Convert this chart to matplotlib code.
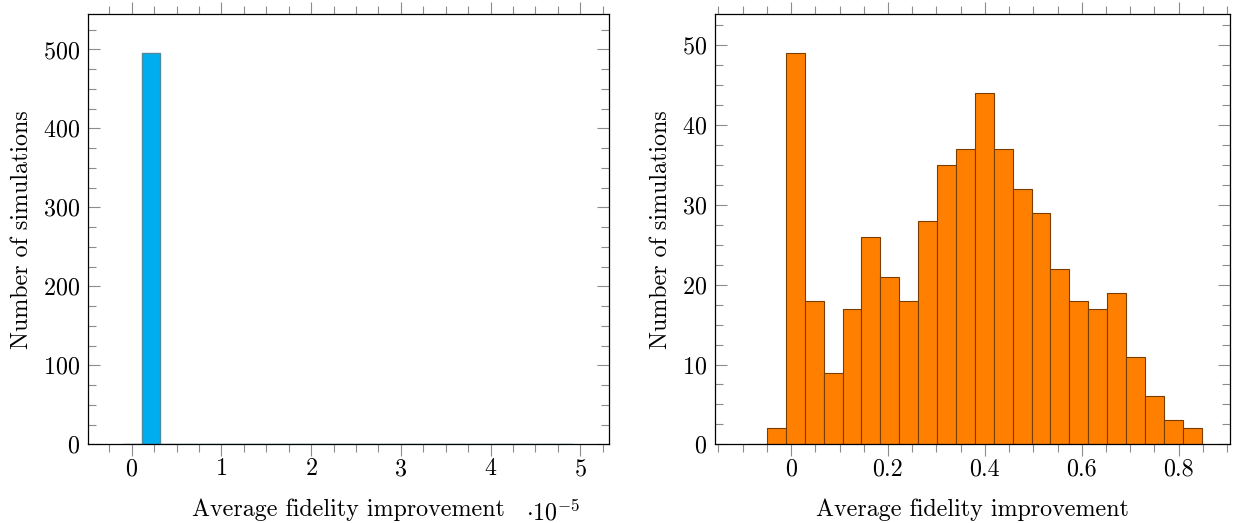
import numpy as np
import matplotlib
matplotlib.use("Agg")
import matplotlib.pyplot as plt
from matplotlib.ticker import MultipleLocator

plt.rcParams["font.family"] = "cmr10"
plt.rcParams["mathtext.fontset"] = "cm"
plt.rcParams["axes.formatter.use_mathtext"] = True

# ─── Data ─────────────────────────────────────────────────────────────────────

# left panel, x in units of 1e-5
SCALE = 1e-5
left_start = -0.099
left_width = 0.209
left_counts = [0, 495, 1, 0, 0, 0, 0, 0, 0, 0, 1, 0, 0, 1, 0, 0, 0, 0, 0, 0, 1, 0, 0, 1]
left_ticks = [0, 1, 2, 3, 4, 5]

# right panel
right_start = -0.0887
right_width = 0.039
right_counts = [0, 2, 49, 18, 9, 17, 26, 21, 18, 28, 35, 37, 44, 37, 32,
                29, 22, 18, 17, 19, 11, 6, 3, 2]
right_ticks = [0, 0.2, 0.4, 0.6, 0.8]
right_tick_labels = ["0", "0.2", "0.4", "0.6", "0.8"]

XLABEL = "Average fidelity improvement"
YLABEL = "Number of simulations"

FS = 17.3
TICK_COLOR = "#8c8c8c"

# ─── Plot ─────────────────────────────────────────────────────────────────────

fig = plt.figure(figsize=(12.33, 5.23), dpi=100)
ax1 = fig.add_axes([88.3 / 1233, 78.7 / 523, 520.7 / 1233, 430 / 523])
ax2 = fig.add_axes([715 / 1233, 78.7 / 523, 515 / 1233, 430 / 523])


def style_axis(ax):
    for s in ax.spines.values():
        s.set_linewidth(0.9)
        s.set_color("black")
    ax.tick_params(axis="x", which="both", direction="out", top=True, bottom=True,
                   color=TICK_COLOR, width=0.8, labelsize=FS, pad=1.5)
    ax.tick_params(axis="y", which="both", direction="in", left=True, right=True,
                   color=TICK_COLOR, width=0.8, labelsize=FS, pad=6)
    ax.tick_params(which="major", length=8.3)
    ax.tick_params(which="minor", length=5.5)
    ax.set_xlabel(XLABEL, fontsize=FS, labelpad=13)
    ax.set_ylabel(YLABEL, fontsize=FS, labelpad=7)


# left histogram
edges = left_start + left_width * np.arange(len(left_counts))
ax1.bar(edges, left_counts, width=left_width, align="edge",
        color="#00aeef", edgecolor="#4f8aa3", linewidth=1.0)
ax1.set_xlim(-0.484, 5.32)
ax1.set_ylim(0, max(left_counts) * 1.1)
ax1.set_xticks(left_ticks)
ax1.xaxis.set_minor_locator(MultipleLocator(0.25))
ax1.yaxis.set_major_locator(MultipleLocator(100))
ax1.yaxis.set_minor_locator(MultipleLocator(25))
style_axis(ax1)
fig.text(553 / 1233, 1 - 520 / 523, r"$\cdot 10^{-5}$", fontsize=FS,
         ha="center", va="baseline")

# right histogram
edges = right_start + right_width * np.arange(len(right_counts))
ax2.bar(edges, right_counts, width=right_width, align="edge",
        color="#ff8000", edgecolor="#7a3d00", linewidth=0.8)
ax2.set_xlim(-0.157, 0.906)
ax2.set_ylim(0, max(right_counts) * 1.1)
ax2.set_xticks(right_ticks)
ax2.set_xticklabels(right_tick_labels)
ax2.xaxis.set_minor_locator(MultipleLocator(0.05))
ax2.yaxis.set_major_locator(MultipleLocator(10))
ax2.yaxis.set_minor_locator(MultipleLocator(2.5))
style_axis(ax2)

fig.savefig("out.png", dpi=100)
